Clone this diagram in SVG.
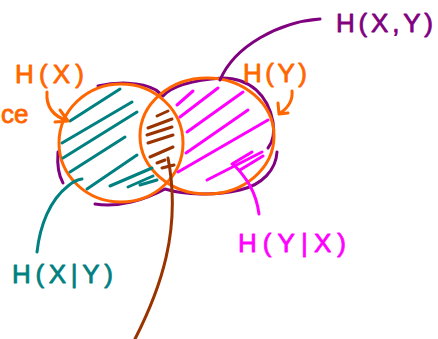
<svg xmlns="http://www.w3.org/2000/svg" width="438" height="339" viewBox="0 0 438 339">
<style>
.s{fill:none;stroke-width:3;stroke-linecap:round;stroke-linejoin:round}
.pu{stroke:#800080}.or{stroke:#FF6600}.te{stroke:#008080}.mg{stroke:#FF00FF}.br{stroke:#993300}
text{font-family:"Liberation Sans",Arial,sans-serif;font-size:26px;stroke-width:0.8;stroke-linejoin:round}
</style>
<rect width="438" height="339" fill="#fff"/>
<g id="union-outline">
<path class="s pu" d="M98,86 C115,82 140,81 156,90 L163,96 C172,86 195,80 222,78 C250,78 268,95 273,122 C275,135 272,143 268,148"/>
<path class="s pu" d="M95,204 C118,208 145,200 165,189 C185,195 215,196 240,190 C262,185 276,170 277,152"/>
<path class="s pu" d="M58,152 C57,165 59,176 63,183"/>
</g>
<g id="HX-circle">
<ellipse class="s or" cx="121" cy="143" rx="62" ry="59"/>
</g>
<g id="HY-circle">
<ellipse class="s or" cx="207" cy="136" rx="67" ry="58"/>
</g>
<g id="HXgY-hatch" class="s te">
<path d="M70,121 L120,89 M62,143 L132,102 M63,158 L137,112 M70,172 L125,137 M87,189 L137,155 M110,186 L152,168 M128,187 L153,176 M140,185 L157,180"/>
</g>
<g id="HYgX-hatch" class="s mg">
<path d="M177,105 L193,91 M180,117 L218,88 M187,132 L243,92 M186,153 L248,110 M178,172 L268,120 M207,180 L262,152 M232,164 L252,152 M240,170 L263,156"/>
</g>
<g id="mutual-hatch" class="s br">
<path d="M157,116 L168,111 M148,128 L172,119 M147,135 L172,127 M148,143 L173,135 M150,157 L173,147 M157,163 L165,160"/>
</g>
<g id="connectors" class="s">
<path class="pu" d="M320,19 C280,22 235,45 220,80"/>
<path class="or" d="M47,92 C46,105 52,116 68,121 M60,110 L68,121 L55,122"/>
<path class="or" d="M292,91 C293,100 288,108 279,114 M278,103 L279,114 L288,113"/>
<path class="te" d="M37,252 C40,225 50,200 68,186 Q75,180 82,179"/>
<path class="mg" d="M233,164 C247,178 256,192 259,214"/>
<path class="br" d="M135,339 C160,290 182,230 168,158 M162,168 L174,165"/>
</g>
<g id="labels">
<text x="336" y="32" fill="#800080" stroke="#800080" textLength="97" lengthAdjust="spacing">H(X,Y)</text>
<text x="15" y="83" fill="#FF6600" stroke="#FF6600" font-size="25" textLength="69" lengthAdjust="spacing">H(X)</text>
<text x="243" y="82" fill="#FF6600" stroke="#FF6600" font-size="25" textLength="64" lengthAdjust="spacing">H(Y)</text>
<text x="238" y="252" fill="#FF00FF" stroke="#FF00FF" textLength="108" lengthAdjust="spacing">H(Y|X)</text>
<text x="12" y="283" fill="#008080" stroke="#008080" textLength="101" lengthAdjust="spacing">H(X|Y)</text>
<text x="1" y="123" fill="#FF6600" stroke="#FF6600" font-size="16">ce</text>
</g>
</svg>
